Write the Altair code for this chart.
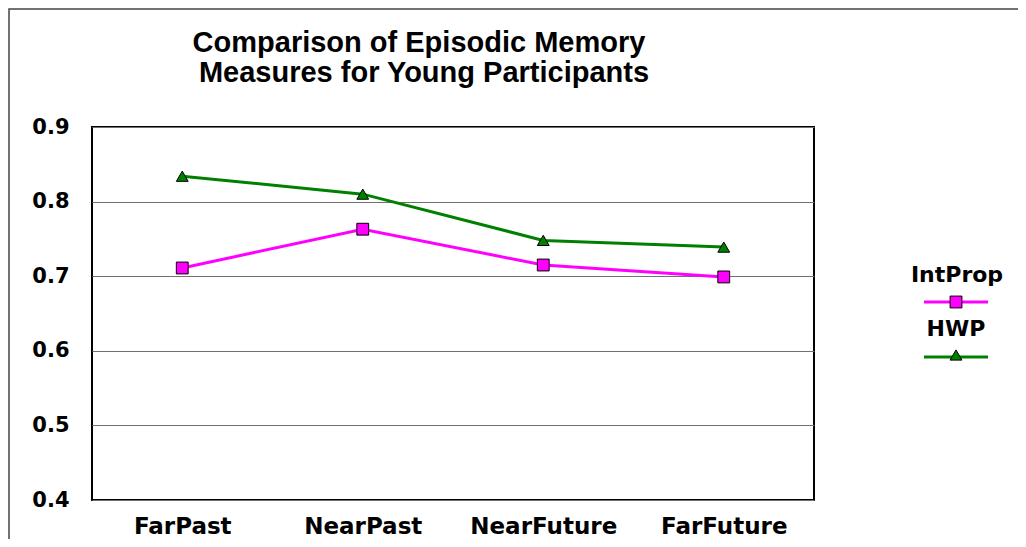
import altair as alt
import pandas as pd

categories = ["FarPast", "NearPast", "NearFuture", "FarFuture"]
series_names = ["IntProp", "HWP"]
intprop = [0.711, 0.763, 0.715, 0.699]
hwp = [0.834, 0.810, 0.748, 0.739]
series_colors = ["#FF00FF", "#008000"]
series_shapes = ["square", "triangle-up"]
y_ticks = [0.4, 0.5, 0.6, 0.7, 0.8, 0.9]
title_lines = ["Comparison of Episodic Memory", "Measures for Young Participants"]

rows = []
for name, vals in zip(series_names, [intprop, hwp]):
    for c, v in zip(categories, vals):
        rows.append({"category": c, "series": name, "value": v})
df = pd.DataFrame(rows)

LABEL_FONT = "DejaVu Sans"
TITLE_FONT = "Liberation Sans"

x_enc = alt.X("category:N", sort=categories,
              scale=alt.Scale(type="point", padding=0.5),
              axis=alt.Axis(title=None, labelAngle=0, domain=False, ticks=False, grid=False,
                            labelFont=LABEL_FONT, labelFontWeight="bold", labelFontSize=23,
                            labelColor="black", labelPadding=15))
y_enc = alt.Y("value:Q", scale=alt.Scale(domain=[0.4, 0.9], nice=False, zero=False),
              axis=alt.Axis(title=None, values=y_ticks, format=".1f", domain=False, ticks=False,
                            grid=True, gridColor="#707070", gridWidth=1.2,
                            labelFont=LABEL_FONT, labelFontWeight="bold", labelFontSize=21,
                            labelColor="black", labelPadding=23))
color_enc = alt.Color("series:N", scale=alt.Scale(domain=series_names, range=series_colors), legend=None)
shape_enc = alt.Shape("series:N", scale=alt.Scale(domain=series_names, range=series_shapes), legend=None)

base = alt.Chart(df)
lines = base.mark_line(strokeWidth=3).encode(x=x_enc, y=y_enc, color=color_enc, detail="series:N")
points = base.mark_point(filled=True, size=140, stroke="black", strokeWidth=1, opacity=1).encode(
    x=x_enc, y=y_enc, color=color_enc, shape=shape_enc)

one = pd.DataFrame({"k": [0]})
frame = alt.Chart(one).mark_rect(fill="white", fillOpacity=0, stroke="#444444", strokeWidth=1.5).encode(
    x=alt.value(-83), x2=alt.value(1100), y=alt.value(-118), y2=alt.value(600))

title1 = alt.Chart(one).mark_text(font=TITLE_FONT, fontWeight="bold", fontSize=29, color="black",
                                  align="center", baseline="alphabetic", text=title_lines[0]).encode(
    x=alt.value(327), y=alt.value(-75))
title2 = alt.Chart(one).mark_text(font=TITLE_FONT, fontWeight="bold", fontSize=29, color="black",
                                  align="center", baseline="alphabetic", text=title_lines[1]).encode(
    x=alt.value(332), y=alt.value(-45))

leg_text1 = alt.Chart(one).mark_text(font=LABEL_FONT, fontWeight="bold", fontSize=22, color="black",
                                     align="center", baseline="alphabetic", text=series_names[0]).encode(
    x=alt.value(865), y=alt.value(155))
leg_line1 = alt.Chart(one).mark_rule(color=series_colors[0], strokeWidth=3).encode(
    x=alt.value(832), x2=alt.value(896), y=alt.value(175))
leg_pt1 = alt.Chart(one).mark_point(filled=True, size=140, shape=series_shapes[0], fill=series_colors[0],
                                    stroke="black", strokeWidth=1, opacity=1).encode(
    x=alt.value(864), y=alt.value(175))
leg_text2 = alt.Chart(one).mark_text(font=LABEL_FONT, fontWeight="bold", fontSize=22, color="black",
                                     align="center", baseline="alphabetic", text=series_names[1]).encode(
    x=alt.value(864), y=alt.value(209))
leg_line2 = alt.Chart(one).mark_rule(color=series_colors[1], strokeWidth=3).encode(
    x=alt.value(832), x2=alt.value(896), y=alt.value(230))
leg_pt2 = alt.Chart(one).mark_point(filled=True, size=140, shape=series_shapes[1], fill=series_colors[1],
                                    stroke="black", strokeWidth=1, opacity=1).encode(
    x=alt.value(864), y=alt.value(228))

chart = alt.layer(frame, lines, points, title1, title2,
                  leg_text1, leg_line1, leg_pt1, leg_text2, leg_line2, leg_pt2).properties(
    width=722, height=373,
    autosize=alt.AutoSizeParams(type="none"),
    padding={"left": 84, "top": 119, "right": 204, "bottom": 39},
    background="white",
).configure_view(stroke="black", strokeWidth=2)

chart.save("out.html", embed_options={"renderer": "svg", "actions": False})
